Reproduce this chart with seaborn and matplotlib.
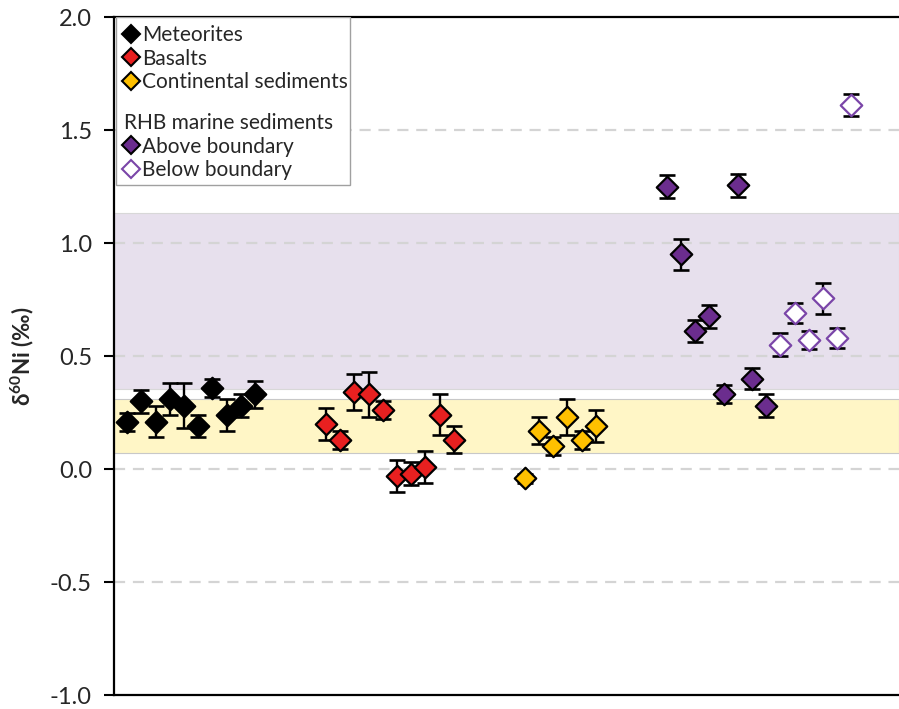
import numpy as np
import pandas as pd
import seaborn as sns
import matplotlib.pyplot as plt
from matplotlib.lines import Line2D
from matplotlib.patches import Rectangle

# Ni isotope data (delta60Ni, permil) with 2sd errors
met_x = [0, 1, 2, 3, 4, 5, 6, 7, 8, 9]
met_y = [0.21, 0.30, 0.21, 0.31, 0.28, 0.19, 0.36, 0.24, 0.28, 0.33]
met_err = [0.04, 0.05, 0.07, 0.07, 0.10, 0.05, 0.04, 0.07, 0.05, 0.06]

bas_x = [14, 15, 16, 17, 18, 19, 20, 21, 22, 23]
bas_y = [0.20, 0.13, 0.34, 0.33, 0.26, -0.03, -0.02, 0.01, 0.24, 0.13]
bas_err = [0.07, 0.04, 0.08, 0.10, 0.04, 0.07, 0.05, 0.07, 0.09, 0.06]

con_x = [28, 29, 30, 31, 32, 33]
con_y = [-0.04, 0.17, 0.10, 0.23, 0.13, 0.19]
con_err = [0.02, 0.06, 0.04, 0.08, 0.04, 0.07]

above_x = [38, 39, 40, 41, 42, 43, 44, 45]
above_y = [1.25, 0.95, 0.61, 0.675, 0.33, 1.255, 0.40, 0.28]
above_err = [0.05, 0.07, 0.05, 0.05, 0.04, 0.05, 0.045, 0.05]

below_x = [46, 47, 48, 49, 50, 51]
below_y = [0.55, 0.69, 0.57, 0.755, 0.58, 1.61]
below_err = [0.05, 0.045, 0.04, 0.07, 0.045, 0.05]

# reference ranges (shaded bands)
band_purple = (0.355, 1.135)
band_yellow = (0.072, 0.308)

yticks = [-1.0, -0.5, 0.0, 0.5, 1.0, 1.5, 2.0]

sns.set_style("white")
plt.rcParams['font.family'] = ['Lato', 'DejaVu Sans']
plt.rcParams['mathtext.fontset'] = 'custom'
plt.rcParams['mathtext.bf'] = 'Lato:bold'
plt.rcParams['mathtext.rm'] = 'Lato'

fig = plt.figure(figsize=(8.99, 7.09), dpi=100)
ax = fig.add_axes([0.127, 0.0197, 0.873, 0.9563])

ax.axhspan(*band_purple, facecolor='#E7E0ED', edgecolor='#D8D8D8', lw=0.8, zorder=0)
ax.axhspan(*band_yellow, facecolor='#FFF6C6', edgecolor='#C8C8C8', lw=0.8, zorder=0)
for yv in [-0.5, 0.0, 0.5, 1.0, 1.5]:
    ax.axhline(yv, color='#D4D4D4', lw=1.6, ls=(0, (5, 3.5)), zorder=0.5)

groups = [
    ('Meteorites', met_x, met_y, met_err, 'black', 'black'),
    ('Basalts', bas_x, bas_y, bas_err, '#E82020', 'black'),
    ('Continental sediments', con_x, con_y, con_err, '#FFC000', 'black'),
    ('Above boundary', above_x, above_y, above_err, '#6B2D8E', 'black'),
    ('Below boundary', below_x, below_y, below_err, 'white', '#7A45A8'),
]

for name, xs, ys, es, fc, ec in groups:
    df = pd.DataFrame({'x': xs, 'y': ys, 'err': es})
    ax.errorbar(df['x'], df['y'], yerr=df['err'], fmt='none', ecolor='black',
                elinewidth=1.7, capsize=6, capthick=1.9, zorder=2)
    sns.scatterplot(data=df, x='x', y='y', marker='D', s=120, color=fc,
                    edgecolor=ec, linewidth=1.6, ax=ax, zorder=3)

ax.set_xlim(-0.92, 54.35)
ax.set_ylim(-1.0, 2.0)
ax.set_yticks(yticks)
ax.set_yticklabels([f'{v:.1f}' for v in yticks], fontsize=17)
ax.set_xticks([])
ax.set_xlabel('')
ax.set_ylabel(r'δ$^{\mathbf{60}}$Ni (‰)', fontsize=16, fontweight='bold', labelpad=10)
ax.tick_params(axis='y', direction='out', length=7, width=1.5, color='black', left=True, pad=9)
for side in ['left', 'bottom', 'top']:
    ax.spines[side].set_visible(True)
    ax.spines[side].set_color('black')
    ax.spines[side].set_linewidth(1.6)
ax.spines['right'].set_visible(False)

def handle(fc, ec):
    return Line2D([], [], marker='D', ls='none', markersize=9.5, markerfacecolor=fc,
                  markeredgecolor=ec, markeredgewidth=1.5)

leg_kw = dict(loc='upper left', frameon=False, fontsize=15, handlelength=0.7,
              handletextpad=0.15, labelspacing=0.18, borderpad=0.2)
leg1 = ax.legend([handle('black', 'black'), handle('#E82020', 'black'), handle('#FFC000', 'black')],
                 ['Meteorites', 'Basalts', 'Continental sediments'],
                 bbox_to_anchor=(-0.006, 1.01), **leg_kw)
ax.add_artist(leg1)
leg2 = ax.legend([handle('#6B2D8E', 'black'), handle('white', '#7A45A8')],
                 ['Above boundary', 'Below boundary'], title='RHB marine sediments',
                 title_fontsize=15, alignment='left',
                 bbox_to_anchor=(-0.006, 0.88), **leg_kw)
ax.add_patch(Rectangle((0.002, 0.752), 0.299, 0.248, transform=ax.transAxes,
                       facecolor='white', edgecolor='#A0A0A0', lw=1.0, zorder=4))
leg1.set_zorder(5)
leg2.set_zorder(5)

fig.savefig('out.png', dpi=100)
